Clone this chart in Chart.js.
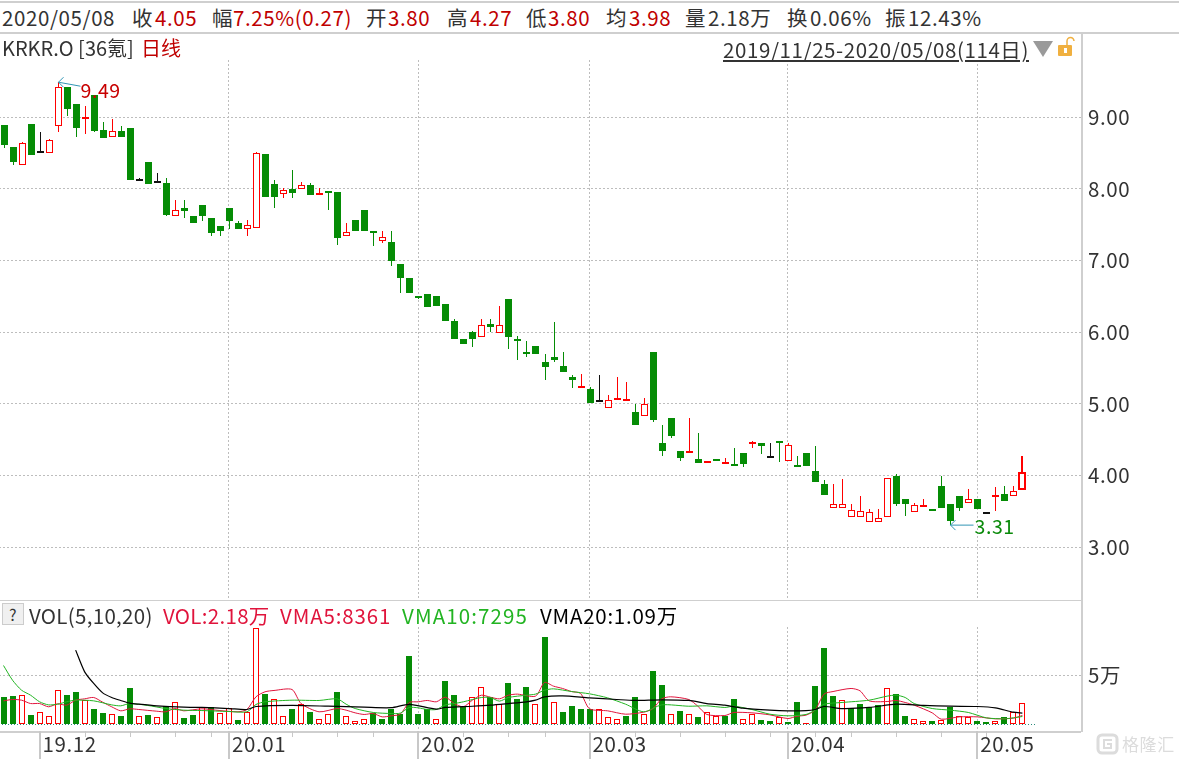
<!DOCTYPE html>
<html>
<head>
<meta charset="utf-8">
<script src="https://cdn.jsdelivr.net/npm/chart.js@4/dist/chart.umd.js"></script>
<style>
html,body{margin:0;padding:0;background:#fff;overflow:hidden}
#page{position:relative;width:1179px;height:759px;overflow:hidden;font-family:"Noto Sans CJK SC","Noto Sans",sans-serif;color:#333;font-size:20.5px;letter-spacing:.6px}
#page span{position:absolute;white-space:nowrap;line-height:24px}
.r{color:#c00000}
.rule{position:absolute;background:#cfcfcf}
canvas{position:absolute;left:-1px}
</style>
</head>
<body>
<div id="page">
  <div class="rule" style="left:0;top:1px;width:1179px;height:2px"></div>
  <div class="rule" style="left:0;top:32px;width:1179px;height:2px"></div>
  <div class="rule" style="left:0;top:600px;width:1081px;height:1px"></div>
  <div class="rule" style="left:0;top:731px;width:1081px;height:2px"></div>
  <div class="rule" style="left:1081px;top:33px;width:2px;height:699px"></div>

  <canvas id="priceChart" width="1180" height="540" style="top:60px"></canvas>
  <canvas id="volChart" width="1180" height="132" style="top:627px"></canvas>

  <span style="left:2px;top:5px">2020/05/08</span>
  <span style="left:132px;top:5px">收</span><span class="r" style="left:155px;top:5px">4.05</span>
  <span style="left:212px;top:5px">幅</span><span class="r" style="left:233px;top:5px">7.25%(0.27)</span>
  <span style="left:366px;top:5px">开</span><span class="r" style="left:388px;top:5px">3.80</span>
  <span style="left:447px;top:5px">高</span><span class="r" style="left:470px;top:5px">4.27</span>
  <span style="left:526px;top:5px">低</span><span class="r" style="left:548px;top:5px">3.80</span>
  <span style="left:606px;top:5px">均</span><span class="r" style="left:629px;top:5px">3.98</span>
  <span style="left:685px;top:5px">量</span><span style="left:708px;top:5px">2.18万</span>
  <span style="left:787px;top:5px">换</span><span style="left:810px;top:5px">0.06%</span>
  <span style="left:885px;top:5px">振</span><span style="left:908px;top:5px">12.43%</span>

  <span style="left:2px;top:36px;font-size:20px;letter-spacing:0">KRKR.O [36氪]</span><span class="r" style="left:141px;top:36px;font-size:20px;letter-spacing:0">日线</span>
  <span style="left:723px;top:37px;text-decoration:underline">2019/11/25-2020/05/08(114日)</span>
  <svg style="position:absolute;left:1030px;top:36px" width="50" height="24">
    <polygon points="3,5 23,5 13,21" fill="#9a9a9a"/>
    <rect x="28" y="9" width="14" height="11" rx="1" fill="#f0b040"/>
    <rect x="34" y="12" width="3" height="5" fill="#fff"/>
    <path d="M37 9 V5 a3.5 3.5 0 0 1 7 0" stroke="#f0b040" stroke-width="1.5" fill="none"/>
  </svg>

  <div style="position:absolute;left:2px;top:603px;width:20px;height:20px;border:1px solid #ccc;background:#f0f0f0;text-align:center;line-height:20px;font-size:16px">?</div>
  <span style="left:29px;top:603px;letter-spacing:.3px">VOL(5,10,20)</span>
  <span style="left:163px;top:603px;color:#e0143c;letter-spacing:.3px">VOL:2.18万</span>
  <span style="left:280px;top:603px;color:#e0143c;letter-spacing:.85px">VMA5:8361</span>
  <span style="left:402px;top:603px;color:#22b422;letter-spacing:1.1px">VMA10:7295</span>
  <span style="left:540px;top:603px;color:#000;letter-spacing:.75px">VMA20:1.09万</span>

  <svg style="position:absolute;left:1096px;top:732px" width="26" height="24">
    <rect x="2" y="3" width="19" height="18" rx="4" fill="none" stroke="#dcdcdc" stroke-width="3"/>
    <path d="M16 8 H8 V16 H15 V12 H11" fill="none" stroke="#dcdcdc" stroke-width="2"/>
  </svg>
  <span style="left:1122px;top:732px;font-size:17px;color:#dcdcdc">格隆汇</span>
</div>

<script>
// trading days shown on the chart
const dates = [
'2019/11/25','2019/11/26','2019/11/27','2019/11/29',
'2019/12/02','2019/12/03','2019/12/04','2019/12/05','2019/12/06','2019/12/09','2019/12/10','2019/12/11','2019/12/12','2019/12/13',
'2019/12/16','2019/12/17','2019/12/18','2019/12/19','2019/12/20','2019/12/23','2019/12/24','2019/12/26','2019/12/27','2019/12/30','2019/12/31',
'2020/01/02','2020/01/03','2020/01/06','2020/01/07','2020/01/08','2020/01/09','2020/01/10','2020/01/13','2020/01/14','2020/01/15','2020/01/16','2020/01/17',
'2020/01/21','2020/01/22','2020/01/23','2020/01/24','2020/01/27','2020/01/28','2020/01/29','2020/01/30','2020/01/31',
'2020/02/03','2020/02/04','2020/02/05','2020/02/06','2020/02/07','2020/02/10','2020/02/11','2020/02/12','2020/02/13','2020/02/14',
'2020/02/18','2020/02/19','2020/02/20','2020/02/21','2020/02/24','2020/02/25','2020/02/26','2020/02/27','2020/02/28',
'2020/03/02','2020/03/03','2020/03/04','2020/03/05','2020/03/06','2020/03/09','2020/03/10','2020/03/11','2020/03/12','2020/03/13',
'2020/03/16','2020/03/17','2020/03/18','2020/03/19','2020/03/20','2020/03/23','2020/03/24','2020/03/25','2020/03/26','2020/03/27','2020/03/30','2020/03/31',
'2020/04/01','2020/04/02','2020/04/03','2020/04/06','2020/04/07','2020/04/08','2020/04/09','2020/04/13','2020/04/14','2020/04/15','2020/04/16','2020/04/17',
'2020/04/20','2020/04/21','2020/04/22','2020/04/23','2020/04/24','2020/04/27','2020/04/28','2020/04/29','2020/04/30',
'2020/05/01','2020/05/04','2020/05/05','2020/05/06','2020/05/07','2020/05/08'];
// empty days on the right of the last candle
const spare = ['','','','','',''];

const open = [8.89,8.59,8.33,8.91,8.5,8.5,8.88,9.42,9.19,8.97,
9.31,8.82,8.72,8.81,8.85,8.11,8.38,8.08,8.09,7.63,
7.73,7.62,7.78,7.59,7.48,7.73,7.53,7.44,7.45,8.49,
8.07,7.93,8.0,8.0,8.06,7.915,7.96,7.96,7.34,7.57,
7.7,7.405,7.27,7.265,6.96,6.76,6.51,6.54,6.5,6.4,
6.16,5.91,6.01,5.93,6.11,5.99,6.47,5.91,5.73,5.81,
5.59,5.65,5.535,5.38,5.22,5.21,5.03,4.94,5.05,5.04,
4.89,4.83,5.73,4.46,4.81,4.34,4.315,4.23,4.18,4.23,
4.16,4.16,4.31,4.44,4.45,4.25,4.46,4.2,4.14,4.31,
4.06,3.88,3.55,3.55,3.43,3.42,3.36,3.35,3.42,3.99,
3.67,3.49,3.56,3.53,3.85,3.61,3.71,3.615,3.68,3.465,
3.7,3.74,3.71,3.8];
const close = [8.62,8.37,8.64,8.48,8.5,8.68,9.43,9.12,8.85,9.0,
8.81,8.71,8.81,8.73,8.12,8.11,8.07,8.08,7.64,7.71,
7.69,7.53,7.63,7.38,7.41,7.55,7.44,7.5,8.5,7.89,
7.89,7.99,7.95,8.06,7.91,7.92,7.94,7.32,7.4,7.41,
7.41,7.39,7.33,7.0,6.76,6.55,6.48,6.36,6.37,6.16,
5.91,5.84,5.91,6.1,6.08,6.1,5.94,5.88,5.7,5.7,
5.52,5.61,5.45,5.33,5.235,5.02,5.03,5.06,5.08,5.055,
4.71,5.0,4.77,4.34,4.56,4.24,4.325,4.17,4.19,4.2,
4.185,4.13,4.16,4.45,4.42,4.25,4.45,4.43,4.12,4.13,
3.91,3.73,3.6,3.6,3.52,3.51,3.49,3.41,3.97,3.6,
3.6,3.59,3.59,3.5,3.55,3.37,3.55,3.68,3.53,3.465,
3.73,3.65,3.78,4.05];
const high = [8.89,8.59,8.66,8.91,8.8,8.7,9.49,9.42,9.19,9.16,
9.31,8.94,8.98,8.88,8.85,8.16,8.38,8.23,8.16,7.85,
7.85,7.63,7.78,7.6,7.48,7.73,7.55,7.57,8.52,8.49,
8.12,8.01,8.26,8.1,8.09,8.01,7.96,7.96,7.52,7.57,
7.7,7.41,7.41,7.41,6.96,6.76,6.51,6.54,6.5,6.4,
6.19,5.91,6.02,6.19,6.19,6.37,6.47,5.95,5.88,5.81,
5.7,6.15,5.72,5.41,5.42,5.24,5.41,5.13,5.37,5.3,
5.0,5.09,5.73,4.7,4.81,4.34,4.8,4.6,4.2,4.23,
4.24,4.38,4.31,4.48,4.45,4.46,4.48,4.45,4.28,4.31,
4.42,3.94,3.89,3.95,3.6,3.71,3.53,3.54,3.97,4.02,
3.67,3.62,3.67,3.54,4.0,3.61,3.71,3.82,3.68,3.465,
3.84,3.85,3.85,4.27];
const low = [8.57,8.34,8.33,8.48,8.5,8.5,8.8,9.02,8.73,8.77,
8.8,8.71,8.72,8.73,8.12,8.11,8.07,8.08,7.62,7.63,
7.6,7.53,7.56,7.34,7.35,7.44,7.44,7.35,7.45,7.89,
7.74,7.88,7.88,8.0,7.91,7.92,7.7,7.22,7.34,7.41,
7.41,7.2,7.25,6.93,6.55,6.55,6.46,6.36,6.37,6.16,
5.9,5.84,5.79,5.93,6.0,5.99,5.77,5.61,5.66,5.7,
5.34,5.59,5.45,5.23,5.22,5.02,5.03,4.94,5.05,5.04,
4.71,4.83,4.75,4.27,4.52,4.21,4.315,4.17,4.18,4.2,
4.16,4.13,4.12,4.39,4.3,4.25,4.19,4.2,4.12,4.13,
3.91,3.73,3.55,3.55,3.43,3.42,3.36,3.35,3.42,3.57,
3.44,3.49,3.56,3.5,3.55,3.31,3.51,3.615,3.53,3.465,
3.5,3.65,3.71,3.8];

// volume in 万
const vol = [2.74,2.85,2.92,0.87,1.25,0.83,3.54,2.95,3.26,2.5,
1.49,1.08,1.04,0.76,3.68,0.73,0.87,0.63,1.81,2.29,
0.56,0.87,1.67,1.67,1.08,1.63,0.35,1.18,9.95,3.06,
2.6,0.83,1.49,1.98,1.18,0.42,1.04,3.26,0.73,0.31,
0.42,1.11,0.45,1.49,1.04,7.01,0.97,1.46,0.42,4.41,
2.95,1.67,2.71,3.85,2.81,2.01,4.2,2.53,3.78,2.08,
8.99,2.19,1.18,1.81,1.49,1.49,1.56,0.63,0.42,0.76,
2.74,0.94,5.45,3.99,1.04,1.28,0.94,0.66,1.15,0.83,
0.83,2.53,0.52,0.94,0.35,0.24,0.66,0.14,2.22,0.1,
3.89,7.85,2.85,2.4,1.6,2.01,1.67,1.88,3.65,3.06,
0.76,0.42,0.31,0.24,0.35,1.7,0.73,0.66,0.24,0.14,
0.24,0.66,1.25,2.18];
// 1 = red hollow volume bar, 0 = green
const volUp = [0,0,1,0,1,1,1,0,0,1,
0,0,1,0,0,1,0,1,0,1,
0,0,1,0,1,1,0,1,1,0,
1,1,0,1,0,1,1,0,1,1,
1,0,0,0,0,0,0,0,1,0,
0,0,1,1,0,1,0,0,0,1,
0,1,0,0,0,0,1,1,1,0,
0,1,0,0,1,0,1,0,1,1,
0,0,1,1,0,0,1,0,0,1,
0,0,0,1,0,0,0,0,1,0,
0,1,1,0,1,0,1,1,0,0,
1,0,1,1];

// moving average lines at these day numbers
const vma5Days = [0,1,2,3,4,5,6,7,8,9,10,11,12,13,14,15,17,18,19,20,22,24,26,27,28,29,30,32,33,35,37,38,39,40,41,42,43,44,45,46,47,48,49,50,51,52,53,54,55,56,57,59,60,61,62,63,64,65,67,69,71,72,73,74,76,77,78,80,81,83,85,87,88,89,90,91,92,94,95,96,98,99,100,101,103,104,106,108,110,112,113];
const vma5 = [2.36,2.5,2.43,2.08,2.08,1.74,2.05,1.91,2.43,2.57,2.71,2.22,1.74,1.32,1.53,1.46,1.28,1.22,1.56,1.32,1.53,1.35,1.22,1.46,2.78,3.3,3.44,3.54,2.08,1.22,1.56,1.39,1.11,0.94,1.04,0.69,0.8,0.97,2.19,2.26,2.4,2.26,2.74,2.08,1.74,2.43,2.95,2.74,2.57,2.95,3.06,2.85,4.27,3.89,3.65,3.33,3.13,1.53,1.32,0.97,1.18,1.53,2.57,2.78,2.5,1.81,0.94,0.83,1.15,1.11,0.9,0.52,0.76,0.87,1.39,3.06,3.33,3.65,3.4,2.36,2.29,2.4,2.19,1.91,1.11,0.45,0.69,0.69,0.49,0.56,0.84];
const vma10Days = [0,1,2,3,4,5,6,7,8,10,12,13,14,16,18,20,22,25,27,28,29,32,35,37,38,39,41,43,44,45,46,47,48,49,50,51,53,54,55,56,58,59,60,61,63,65,67,69,71,73,76,78,80,81,83,85,87,89,90,91,93,96,98,99,100,101,103,105,107,109,111,112,113];
const vma10 = [6.04,4.51,3.47,2.95,2.26,1.94,2.01,2.26,2.43,2.36,1.94,1.84,2.08,1.88,1.56,1.39,1.35,1.25,1.22,1.98,2.26,2.43,2.4,2.57,2.01,1.56,1.15,1.04,1.08,1.67,1.63,1.46,1.46,1.94,2.08,2.26,2.71,2.71,2.33,2.71,2.95,3.06,3.47,3.61,3.33,3.09,2.67,2.01,1.22,1.94,1.8,1.84,1.67,1.8,1.46,0.97,0.8,0.94,1.39,2.01,2.19,2.43,2.85,2.95,2.71,2.08,1.56,1.39,1.15,0.59,0.49,0.59,0.73];
const vma20Days = [8,9,10,11,12,13,14,15,17,20,22,25,27,28,32,36,40,43,45,48,49,52,54,56,58,59,60,62,65,68,70,73,76,78,80,82,85,87,89,90,91,93,96,99,102,105,108,110,112,113];
const vma20 = [7.64,5.38,4.17,3.19,2.71,2.4,2.12,2.01,1.84,1.7,1.67,1.56,1.46,1.77,1.88,1.8,1.7,1.65,2.0,1.49,1.67,1.8,1.91,2.08,2.26,2.43,2.78,2.88,2.67,2.5,2.4,2.47,2.4,2.08,1.91,1.6,1.39,1.32,1.35,1.46,1.77,1.56,1.67,2.01,1.88,1.8,1.77,1.63,1.18,1.09];

const priceTicks = [3,4,5,6,7,8,9];
const volTicks = [5];
const monthDays = [4,25,46,65,87,108];
const monthNames = ['19.12','20.01','20.02','20.03','20.04','20.05'];
const weekDays = [9,14,19,23,27,32,37,41,51,56,60,70,75,80,85,90,94,99,104,109];
const peakDay = 6, peakPrice = 9.49;
const troughDay = 105, troughPrice = 3.31;

const RED = '#ff0000', GREEN = '#058c05', BLACK = '#111111', GRID = '#bdbdbd', TEXT = '#333333';
const last = open.length - 1;
const days = dates.concat(spare);
Chart.defaults.font.family = '"Noto Sans CJK SC","Noto Sans",sans-serif';
Chart.defaults.font.size = 20.5;

function candleColor(i) {
  if (close[i] > open[i]) return RED;
  if (close[i] < open[i]) return GREEN;
  return BLACK;
}
function sparse(idx, vals) {
  const a = new Array(open.length).fill(null);
  idx.forEach((d, k) => { a[d] = vals[k]; });
  return a;
}
// keep month lines only, the first month has no line
function monthGrid(ctx) {
  const k = monthDays.indexOf(ctx.index);
  return k > 0 ? GRID : 'rgba(0,0,0,0)';
}
// the axis labels must not eat into the plot area
function noPadding(s) {
  s.paddingTop = s.paddingBottom = s.paddingLeft = s.paddingRight = 0;
}
function xAxis(showLabels) {
  return {
    offset: true,
    border: {display: false, dash: [2, 2]},
    grid: {color: monthGrid, drawTicks: false, lineWidth: 1, offset: false},
    ticks: {
      display: showLabels, autoSkip: false, maxRotation: 0, align: 'start', labelOffset: 3, padding: 1,
      color: TEXT, font: {size: 20.5},
      callback: (v, i) => { const k = monthDays.indexOf(i); return k >= 0 ? monthNames[k] : ''; }
    },
    afterFit: s => { s.height = showLabels ? 28 : 0; noPadding(s); }
  };
}

// bars land on whole pixels so that the thin candles stay sharp
const crisp = {
  id: 'crisp',
  afterDatasetsUpdate(chart) {
    chart.data.datasets.forEach((ds, d) => {
      const meta = chart.getDatasetMeta(d);
      if (meta.type !== 'bar') return;
      meta.data.forEach((el, i) => {
        const x = Math.round(el.x);
        el.y = Math.round(el.y);
        el.base = Math.round(el.base);
        if (ds.label === 'wick') {
          el.x = i === last ? x : x + 0.5;
          el.width = i === last ? 2 : 1;
        } else if (ds.label === 'body') {
          el.x = i === last ? x : x + 0.5;
          el.width = i === last ? 8 : 7;
          if (Math.abs(el.base - el.y) < 2) el.base = el.y + 2;
        } else {
          el.x = x;
        }
      });
    });
  }
};

// arrows and labels at the highest and lowest price
function arrow(c, tx, ty, sx, sy, dir) {
  c.save();
  c.strokeStyle = '#3296b4';
  c.lineWidth = 1;
  c.beginPath();
  c.moveTo(sx, sy); c.lineTo(tx, ty);
  c.moveTo(tx + dir * 5, ty - 5); c.lineTo(tx, ty); c.lineTo(tx + dir * 5, ty + 5);
  c.stroke();
  c.restore();
}
const extremes = {
  id: 'extremes',
  afterDatasetsDraw(chart) {
    const c = chart.ctx, x = chart.scales.x, y = chart.scales.y;
    const px = Math.round(x.getPixelForValue(peakDay)) + 0.5, py = y.getPixelForValue(peakPrice);
    const tx = Math.round(x.getPixelForValue(troughDay)) + 0.5, ty = y.getPixelForValue(troughPrice);
    arrow(c, px, py, px + 22, py + 4, 1);
    arrow(c, tx, ty, tx + 23, ty, 1);
    c.save();
    c.font = '19.5px "Noto Sans CJK SC"';
    c.textBaseline = 'middle';
    c.fillStyle = '#c80000';
    c.fillText(peakPrice.toFixed(2), px + 22, py + 8);
    c.fillStyle = '#0a8a0a';
    c.fillText(troughPrice.toFixed(2), tx + 24, ty + 1);
    c.restore();
  }
};

// dotted zero line and the ticks under the volume panel
const volExtras = {
  id: 'volExtras',
  afterDatasetsDraw(chart) {
    const c = chart.ctx, x = chart.scales.x, y = chart.scales.y, b = chart.chartArea.bottom;
    c.save();
    c.strokeStyle = '#2a8a7a';
    c.setLineDash([1, 2]);
    c.beginPath();
    const zero = Math.round(y.getPixelForValue(0)) + 0.5;
    c.moveTo(chart.chartArea.left, zero);
    c.lineTo(x.getPixelForValue(last) + 14, zero);
    c.stroke();
    c.setLineDash([]);
    c.strokeStyle = '#c8c8c8';
    c.lineWidth = 1;
    c.beginPath();
    weekDays.forEach(d => {
      const p = Math.round(x.getPixelForValue(d)) + 0.5;
      c.moveTo(p, b); c.lineTo(p, b + 6);
    });
    c.stroke();
    c.lineWidth = 2;
    c.beginPath();
    monthDays.forEach(d => {
      const p = Math.round(x.getPixelForValue(d));
      c.moveTo(p, b); c.lineTo(p, chart.height);
    });
    c.stroke();
    c.restore();
  }
};

new Chart(document.getElementById('priceChart'), {
  type: 'bar',
  data: {
    labels: days,
    datasets: [{
      label: 'body',
      order: 1,
      data: open.map((o, i) => [o, close[i]]),
      barThickness: 7,
      grouped: false,
      minBarLength: 2,
      inflateAmount: 0,
      borderSkipped: false,
      borderWidth: open.map((o, i) => i === last ? 2 : (close[i] > o ? 1 : 0)),
      borderColor: open.map((o, i) => candleColor(i)),
      backgroundColor: open.map((o, i) => close[i] > o ? '#ffffff' : candleColor(i))
    }, {
      label: 'wick',
      order: 2,
      data: low.map((l, i) => [l, high[i]]),
      barThickness: 1,
      grouped: false,
      inflateAmount: 0,
      borderWidth: 0,
      backgroundColor: open.map((o, i) => candleColor(i))
    }]
  },
  options: {
    responsive: false,
    animation: false,
    layout: {padding: 0},
    plugins: {legend: {display: false}, tooltip: {enabled: false}},
    scales: {
      x: xAxis(false),
      y: {
        position: 'right',
        min: 2.265,
        max: 9.8,
        border: {display: false, dash: [2, 2]},
        grid: {color: GRID, drawTicks: false},
        afterBuildTicks: s => { s.ticks = priceTicks.map(v => ({value: v})); },
        afterFit: s => { s.width = 98; noPadding(s); },
        ticks: {
          padding: 7, color: TEXT, font: {size: 20.5},
          callback: v => Number(v).toFixed(2)
        }
      }
    }
  },
  plugins: [crisp, extremes]
});

new Chart(document.getElementById('volChart'), {
  type: 'bar',
  data: {
    labels: days,
    datasets: [{
      type: 'line', label: 'VMA20', order: 1, data: sparse(vma20Days, vma20),
      borderColor: '#000000', borderWidth: 1.2, pointRadius: 0, tension: 0.25, spanGaps: true
    }, {
      type: 'line', label: 'VMA10', order: 2, data: sparse(vma10Days, vma10),
      borderColor: '#22b422', borderWidth: 1, pointRadius: 0, tension: 0.25, spanGaps: true
    }, {
      type: 'line', label: 'VMA5', order: 3, data: sparse(vma5Days, vma5),
      borderColor: '#e0143c', borderWidth: 1, pointRadius: 0, tension: 0.25, spanGaps: true
    }, {
      label: 'vol',
      order: 4,
      data: vol,
      barThickness: 6,
      grouped: false,
      inflateAmount: 0,
      borderSkipped: false,
      borderWidth: volUp.map(u => u ? 1 : 0),
      borderColor: volUp.map(u => u ? RED : GREEN),
      backgroundColor: volUp.map(u => u ? '#ffffff' : GREEN)
    }]
  },
  options: {
    responsive: false,
    animation: false,
    layout: {padding: 0},
    plugins: {legend: {display: false}, tooltip: {enabled: false}},
    scales: {
      x: xAxis(true),
      y: {
        position: 'right',
        min: -0.78,
        max: 10.05,
        border: {display: false, dash: [2, 2]},
        grid: {color: GRID, drawTicks: false},
        afterBuildTicks: s => { s.ticks = volTicks.map(v => ({value: v})); },
        afterFit: s => { s.width = 98; noPadding(s); },
        ticks: {padding: 7, color: TEXT, font: {size: 20.5}, callback: v => v + '万'}
      }
    }
  },
  plugins: [crisp, volExtras]
});
</script>
</body>
</html>
